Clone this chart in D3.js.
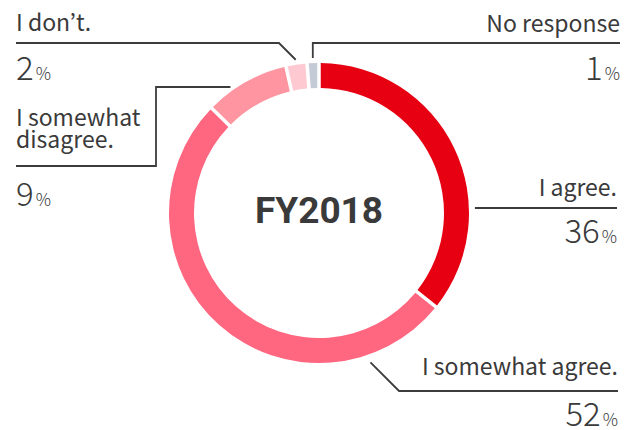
<!DOCTYPE html>
<html><head><meta charset="utf-8">
<script src="https://cdn.jsdelivr.net/npm/d3@7/dist/d3.min.js"></script>
<style>
html,body{margin:0;padding:0;background:#fff;}
svg{display:block;}
text{font-family:"Noto Sans CJK KR","Noto Sans",sans-serif;fill:#3a3a3a;}
</style></head>
<body>
<script>
// ---- data ----
const categories = ["I agree.", "I somewhat agree.", "I somewhat disagree.", "I don’t.", "No response"];
const values = [36, 52, 9, 2, 1];
const colors = ["#e60012", "#ff6680", "#ff95a0", "#ffc9d1", "#c5cad7"];
const centerTitle = "FY2018";

const W = 636, H = 430;
const cx = 319, cy = 213, R = 150, r = 125;

const svg = d3.select("body").append("svg").attr("width", W).attr("height", H);
const g = svg.append("g").attr("transform", `translate(${cx},${cy})`);

const pie = d3.pie().sort(null).value(d => d.v).padAngle(0.018);
const arcs = pie(values.map((v, i) => ({v, name: categories[i], color: colors[i]})));
const arc = d3.arc().innerRadius(r).outerRadius(R);

g.selectAll("path.slice").data(arcs).join("path")
  .attr("class", "slice")
  .attr("d", arc)
  .attr("fill", d => d.data.color);

g.append("text").attr("x", 0).attr("y", 10).attr("text-anchor", "middle")
  .style("font-family", "Roboto, 'Noto Sans', sans-serif")
  .style("font-weight", 700).style("font-size", "37px").attr("fill", "#333")
  .text(centerTitle);

// helper: point on circle at angle (d3 convention, 0 = top, clockwise)
const pt = (a, rad) => [cx + rad * Math.sin(a), cy - rad * Math.cos(a)];
const mid = d => (d.startAngle + d.endAngle) / 2;

// label layouts (positions only)
const layouts = [
  {anchor: "end", x: 617, nameY: [196], lineY: 208, pctY: 243,
   path: d => { const y = 208; const x0 = cx + Math.sqrt((R + 6) ** 2 - (y - cy) ** 2); return [[x0, y], [617, y]]; }},
  {anchor: "end", x: 618, nameY: [375], lineY: 391, pctY: 426,
   path: d => { const p = pt(Math.PI * 161 / 180, R + 8); return [p, [p[0] + (391 - p[1]), 391], [618, 391]]; }},
  {anchor: "start", x: 16, nameY: [126, 148], lineY: 166, pctY: 206,
   path: d => { const y = 87; const x1 = cx - Math.sqrt((R + 4) ** 2 - (cy - y) ** 2); return [[16, 166], [156, 166], [156, y], [x1, y]]; }},
  {anchor: "start", x: 16, nameY: [31], lineY: 43, pctY: 80,
   path: d => { const p = pt(mid(d), R + 5); return [[16, 43], [p[0] - (p[1] - 43), 43], p]; }},
  {anchor: "end", x: 620, nameY: [32], lineY: 43, pctY: 80,
   path: d => { const p = pt(mid(d), R + 5); return [[620, 43], [p[0], 43], p]; }}
];
const nameLines = [["I agree."], ["I somewhat agree."], ["I somewhat", "disagree."], ["I don’t."], ["No response"]];

const line = d3.line();
arcs.forEach((d, i) => {
  const L = layouts[i];
  svg.append("path").attr("d", line(L.path(d)))
    .attr("fill", "none").attr("stroke", "#3c3c3c").attr("stroke-width", 1.8);
  nameLines[i].forEach((t, j) => {
    svg.append("text").attr("x", L.x).attr("y", L.nameY[j]).attr("text-anchor", L.anchor)
      .style("font-size", "23px").style("font-weight", 400).text(t);
  });
  const tx = svg.append("text").attr("x", L.x).attr("y", L.pctY).attr("text-anchor", L.anchor)
    .style("font-weight", 300);
  tx.append("tspan").style("font-size", "33px").text(values[i]);
  tx.append("tspan").style("font-size", "17px").attr("dx", 2).text("%");
});
</script>
</body></html>
